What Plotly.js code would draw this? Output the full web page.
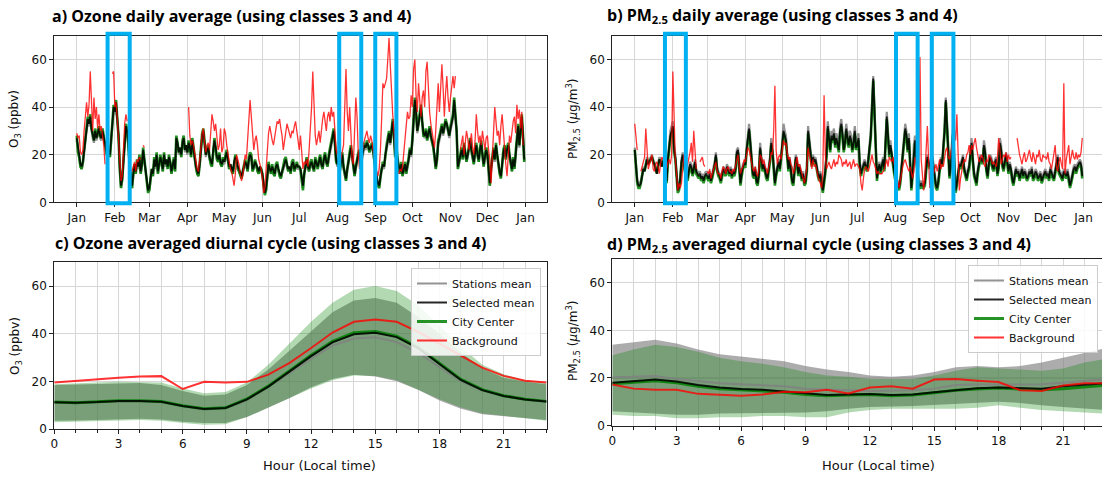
<!DOCTYPE html>
<html>
<head>
<meta charset="utf-8">
<script src="https://cdn.plot.ly/plotly-3.0.1.min.js"></script>
<style>
html,body{margin:0;padding:0;overflow:hidden;background:#fff;width:1102px;height:478px}
#chart{width:1110px;height:478px}
</style>
</head>
<body>
<div id="chart"></div>
<script>
// ---------------- DATA ----------------
const year = 2019;
// Panel a: Ozone daily average (ppbv), Jan..Dec, one value per day
const o3Stations = [
26,21,19,15,14,16,21,25,30,33,32,34,30,27,25,29,26,28,30,27,26,29,26,24,21,19,21,19,26,32,38,
37,40,34,27,14,6,9,17,26,31,29,24,15,9,6,11,15,12,16,14,18,12,15,21,17,13,8,5,
5,9,13,11,17,14,19,12,15,18,16,13,19,15,17,14,18,16,12,15,17,13,26,24,20,22,19,24,26,21,23,
20,24,22,19,25,21,17,14,12,11,15,21,27,29,23,19,21,22,18,16,15,21,25,22,18,17,19,16,15,17,
16,18,20,17,14,15,13,12,16,18,17,14,13,11,10,12,14,16,15,13,17,19,18,13,14,16,15,13,12,14,13,
11,7,4,5,11,15,13,12,14,12,11,14,15,13,11,10,12,14,16,17,15,13,14,12,15,16,13,14,15,14,
14,13,9,6,11,15,17,14,13,15,16,14,13,17,15,14,16,18,15,14,17,19,16,15,18,21,23,27,29,24,17,
15,17,13,16,19,14,11,9,13,17,19,22,18,14,11,14,17,19,20,15,18,21,23,22,24,23,21,22,23,21,17,
13,9,7,6,10,13,15,14,19,22,25,28,24,29,33,27,19,21,17,14,12,15,11,13,15,12,14,17,21,19,
25,34,41,37,29,32,35,39,33,28,27,29,26,28,30,27,25,23,19,14,17,24,26,29,31,28,30,33,32,29,27,
30,32,35,41,34,29,14,16,19,21,18,23,20,17,19,22,25,21,18,16,20,23,19,17,21,24,19,15,18,21,
19,14,7,13,18,21,17,23,19,15,12,10,16,20,22,18,21,23,19,16,13,17,14,19,25,31,23,29,35,27,17];
const o3Selected = [
27,22,20,16,15,17,22,26,31,35,33,36,31,28,26,30,27,29,31,28,27,30,27,25,22,20,22,20,27,33,40,
38,42,35,28,15,7,10,18,27,32,30,25,16,10,7,12,16,13,17,15,19,13,16,22,18,14,9,5,
6,10,14,12,18,15,20,13,16,19,17,14,20,16,18,15,19,17,13,16,18,14,27,25,21,23,20,25,27,22,24,
21,25,23,20,26,22,18,15,13,12,16,22,28,30,24,20,22,23,19,17,16,22,26,23,19,18,20,17,16,18,
17,19,21,18,15,16,14,13,17,19,18,15,14,12,11,13,15,17,16,14,18,20,19,14,15,17,16,14,13,15,14,
12,8,4,6,12,16,14,13,15,13,12,15,16,14,12,11,13,15,17,18,16,14,15,13,16,17,14,15,16,15,
15,14,10,7,12,16,18,15,14,16,17,15,14,18,16,15,17,19,16,15,18,20,17,16,19,22,24,28,30,25,18,
16,18,14,17,20,15,12,10,14,18,20,23,19,15,12,15,18,20,21,16,19,22,24,23,25,24,22,23,24,22,18,
14,10,8,7,11,14,16,15,20,23,26,29,25,30,34,28,20,22,18,15,13,16,12,14,16,13,15,18,22,20,
26,35,43,38,30,33,36,40,34,29,28,30,27,29,31,28,26,24,20,15,18,25,27,30,32,29,31,34,33,30,28,
31,33,36,43,35,30,15,17,20,22,19,24,21,18,20,23,26,22,19,17,21,24,20,18,22,25,20,16,19,22,
20,15,8,14,19,22,18,24,20,16,13,11,17,21,23,19,22,24,20,17,14,18,15,20,26,32,24,30,36,28,18];
const o3City = [
28,21,19,15,14,17,22,26,32,36,33,37,31,28,26,31,27,29,32,28,27,31,27,25,21,19,22,19,27,34,41,
39,43,35,28,14,6,10,18,28,33,31,25,16,9,6,12,16,12,18,15,20,12,16,23,18,13,8,4,
5,10,14,11,19,15,21,12,16,20,17,13,21,16,18,14,20,17,12,16,19,13,28,25,21,23,19,26,28,22,24,
21,26,23,19,27,22,18,15,12,11,16,23,29,31,24,20,22,24,19,16,15,23,27,23,18,17,21,16,15,19,
17,20,22,18,14,16,13,12,17,20,18,14,13,11,10,13,15,18,16,13,19,21,20,13,15,18,16,13,12,15,14,
12,7,3,5,12,17,14,12,16,12,11,16,17,14,11,10,13,16,18,19,16,13,15,12,17,18,13,15,17,15,
15,14,9,5,12,17,19,15,13,17,18,15,13,19,16,14,18,20,16,14,19,21,17,15,20,23,25,29,31,25,17,
16,19,13,18,21,15,11,9,14,19,21,24,19,14,11,15,19,21,22,15,20,23,25,23,26,24,21,23,25,22,17,
13,9,7,6,11,14,17,15,21,24,27,30,25,31,35,28,19,23,18,14,12,17,11,14,17,12,15,19,23,20,
27,36,44,38,30,34,37,41,34,28,28,31,26,30,32,28,26,23,19,14,18,26,28,31,33,29,32,35,33,30,28,
32,34,37,44,35,30,14,17,21,23,18,25,21,17,20,24,27,22,18,16,22,25,20,17,23,26,20,15,20,23,
21,14,7,15,20,23,18,25,20,15,12,10,18,22,24,18,23,25,20,16,13,19,14,21,27,33,24,31,37,28,17];
const o3Background = [
29,27,28,21,20,22,30,37,42,36,41,55,38,30,44,35,40,31,37,30,32,28,24,16,null,null,null,null,null,54,55,
40,42,35,27,15,9,11,22,33,37,34,null,null,null,13,15,17,13,18,17,19,18,null,24,23,null,null,null,
null,null,null,null,null,null,null,null,null,null,null,null,null,null,null,null,null,null,null,null,null,null,null,null,null,null,null,null,null,null,null,
null,40,28,24,26,24,20,16,14,13,17,23,29,31,25,21,24,25,22,30,37,34,30,33,27,22,24,31,21,23,
31,29,24,20,17,14,13,10,7,12,20,18,16,12,9,11,15,20,18,25,34,43,36,28,22,26,28,24,18,16,14,
10,4,6,14,22,29,32,28,26,24,27,30,34,33,35,31,28,22,26,30,33,31,29,27,30,29,32,34,30,26,
22,28,20,14,17,16,18,15,22,30,40,55,42,28,24,27,30,25,32,35,38,33,30,36,38,34,40,36,38,30,22,
20,22,16,19,21,24,40,56,38,30,40,28,18,16,30,44,36,20,14,18,21,24,26,28,30,27,25,28,26,22,18,
16,13,11,14,22,35,50,48,50,52,60,69,58,45,37,30,20,16,13,12,14,13,15,20,25,30,38,35,36,45,
40,56,60,45,38,50,42,36,44,47,40,55,59,44,38,33,30,26,23,30,42,50,38,46,58,48,36,46,53,44,38,
44,50,53,48,53,null,null,null,22,25,28,20,24,30,27,22,25,29,23,20,26,37,30,25,28,24,30,26,22,27,
28,22,18,8,20,30,40,34,28,30,24,32,37,30,22,16,11,20,28,25,30,34,36,29,41,35,39,31,38,24,null];

// Panel b: PM2.5 daily average (µg/m3)
const pmStations = [
23,15,10,8,8,9,13,15,14,17,19,17,18,19,20,18,17,15,13,16,19,18,16,18,19,17,10,19,26,30,32,
34,24,20,13,6,7,11,18,21,17,14,12,11,14,17,16,13,15,18,14,13,12,13,11,12,10,12,13,
12,11,13,10,12,14,17,21,15,13,12,10,13,15,14,13,16,14,13,15,12,14,13,15,22,23,17,9,13,16,17,
17,23,30,33,27,19,13,12,15,10,9,13,25,19,15,17,14,12,11,15,19,27,23,16,9,13,16,18,15,19,
26,33,30,28,21,15,19,13,10,9,15,20,18,13,16,13,11,13,9,10,15,32,27,19,17,20,18,19,15,13,11,
13,9,6,10,14,22,34,29,24,30,28,31,26,29,27,24,32,35,30,24,27,33,29,26,30,28,24,27,32,25,
26,29,17,13,15,17,18,16,15,19,26,30,42,53,40,24,11,15,17,14,16,19,15,27,38,30,21,26,20,18,14,
11,8,9,7,10,15,22,28,33,30,24,29,15,7,13,24,28,19,15,8,8,9,8,8,9,15,20,18,16,17,20,
16,11,8,7,10,15,19,17,24,32,44,36,24,12,16,25,32,17,6,9,13,17,16,18,20,15,13,11,14,16,
21,27,19,13,11,9,14,17,20,19,18,26,23,15,12,17,20,19,16,15,18,19,13,16,27,24,17,15,19,21,18,
14,17,15,11,9,12,15,13,14,11,13,15,12,14,13,11,12,14,13,15,11,12,14,13,11,12,13,10,12,13,
14,12,13,11,15,13,12,11,14,17,20,14,13,12,11,14,13,12,14,10,8,10,13,15,16,14,16,17,18,17,12];
const pmSelected = [
22,14,9,7,7,8,12,14,13,16,18,16,17,18,19,17,16,14,12,15,18,17,15,17,18,16,9,18,24,28,30,
32,22,19,12,5,6,10,17,20,16,13,11,10,13,16,15,12,14,17,13,12,11,12,10,11,9,11,12,
11,10,12,9,11,13,16,20,14,12,11,9,12,14,13,12,15,13,12,14,11,13,12,14,21,22,16,8,12,15,16,
16,22,28,31,25,18,12,11,14,9,8,12,23,18,14,16,13,11,10,14,18,25,22,15,8,12,15,17,14,18,
24,30,28,26,20,14,18,12,9,8,14,19,17,12,15,12,10,12,8,9,14,30,25,18,16,19,17,18,14,12,10,
12,8,5,9,13,20,32,27,22,28,26,29,24,27,25,22,30,33,28,22,25,31,27,24,28,26,22,25,30,23,
24,27,16,12,14,16,17,15,14,18,24,28,40,52,38,22,10,14,16,13,15,18,14,25,36,28,20,24,19,17,13,
10,7,8,6,9,14,20,26,31,28,22,27,14,6,12,22,26,18,14,7,7,8,7,7,8,14,19,17,15,16,19,
15,10,7,6,9,14,18,16,22,30,43,34,22,11,15,23,30,16,5,8,12,16,15,17,19,14,12,10,13,15,
20,25,18,12,10,8,13,16,19,18,17,24,21,14,11,16,19,18,15,14,17,18,12,15,25,22,16,14,18,20,17,
13,16,14,10,8,11,14,12,13,10,12,14,11,13,12,10,11,13,12,14,10,11,13,12,10,11,12,9,11,12,
13,11,12,10,14,12,11,10,13,16,19,13,12,11,10,13,12,11,13,9,7,9,12,14,15,13,15,16,17,16,11];
const pmCity = [
22,13,8,6,6,8,12,14,13,16,18,16,17,18,19,17,16,14,12,15,18,17,15,17,18,16,8,17,23,27,29,
31,21,18,11,4,5,9,16,19,15,12,10,9,12,15,14,11,13,16,12,11,10,11,9,10,8,10,11,
10,9,11,8,10,12,15,19,13,11,10,8,11,13,12,11,14,12,11,13,10,12,11,13,20,21,15,7,11,14,15,
15,21,27,30,24,17,11,10,13,8,7,11,22,17,13,15,12,10,9,13,17,24,21,14,7,11,14,16,13,17,
23,29,27,25,19,13,17,11,8,7,13,18,16,11,14,11,9,11,7,8,13,29,24,17,15,18,16,17,13,11,9,
11,7,4,8,12,19,31,26,21,27,25,28,23,26,24,21,29,32,27,21,24,30,26,23,27,25,21,24,29,22,
23,26,15,11,13,15,16,14,13,17,23,27,39,51,37,21,9,13,15,12,14,17,13,24,35,27,19,23,18,16,12,
9,6,7,5,8,13,19,25,30,27,21,26,13,5,11,21,25,17,13,6,6,7,6,6,7,13,18,16,14,15,18,
14,9,6,5,8,13,17,15,21,29,42,33,21,10,14,22,29,15,4,7,11,15,14,16,18,13,11,9,12,14,
19,24,17,11,9,7,12,15,18,17,16,23,20,13,10,15,18,17,14,13,16,17,11,14,24,21,15,13,17,19,16,
12,15,13,9,7,10,13,11,12,9,11,13,10,12,11,9,10,12,11,13,9,10,12,11,9,10,11,8,10,11,
12,10,11,9,13,11,10,9,12,15,18,12,11,10,9,12,11,10,12,8,6,8,11,13,14,12,14,15,16,15,10];
const pmBackground = [
33,28,22,null,null,13,15,17,19,31,24,14,16,18,20,14,13,16,17,15,12,16,19,18,20,16,14,17,18,16,20,
55,30,18,12,5,8,6,8,15,20,17,14,16,18,21,25,17,30,22,14,null,null,17,18,19,16,15,null,
13,12,14,10,12,14,15,17,13,12,12,10,13,15,14,12,14,15,13,13,12,14,13,15,18,20,15,12,14,15,18,
17,20,23,22,19,16,14,13,15,12,11,14,20,19,16,18,15,14,12,15,17,21,20,30,49,22,16,19,20,18,
22,26,24,25,21,18,19,16,15,12,14,17,19,15,16,14,12,10,8,11,15,23,20,17,14,18,15,16,13,11,9,
8,6,13,45,20,14,16,17,15,14,16,18,15,17,16,20,19,18,15,17,16,18,15,16,17,14,16,18,15,16,
16,15,14,8,5,10,14,15,14,13,15,18,20,17,16,14,12,13,12,12,12,13,14,16,18,15,19,18,17,19,16,
15,12,10,6,9,13,15,17,18,16,14,13,15,12,10,13,19,16,12,15,61,18,9,5,12,20,32,18,6,9,12,
12,14,16,13,15,18,14,16,15,20,22,23,19,18,20,24,26,30,26,37,20,5,10,14,16,18,17,20,21,24,
20,24,22,25,27,23,19,17,18,20,19,16,15,18,17,20,19,18,16,17,16,15,19,27,22,16,18,20,19,21,17,
20,18,19,null,null,null,null,27,22,20,18,16,19,21,17,18,20,22,19,17,21,18,16,20,19,22,18,17,20,19,
19,18,21,17,16,14,18,20,24,15,13,17,19,16,14,50,12,18,22,24,16,20,22,19,18,21,18,20,19,21,27];

// Highlighted periods (blue boxes)
const o3Highlights = [['2019-01-26 02:00','2019-02-13 02:00'],['2019-08-02 12:00','2019-08-20 10:00'],['2019-08-31 19:00','2019-09-18 00:00']];
const pmHighlights = [['2019-01-25 14:00','2019-02-11 14:00'],['2019-08-01 12:00','2019-08-19 02:00'],['2019-08-30 14:00','2019-09-17 05:00']];

// Panel c: Ozone diurnal cycle (ppbv), hours 0..23
const hours = [0,1,2,3,4,5,6,7,8,9,10,11,12,13,14,15,16,17,18,19,20,21,22,23];
const o3HourStations   = [11,10.8,11.2,11.6,11.7,11.2,9.5,8.2,8.6,12,17.5,23.5,29.5,35,38,38.5,36.5,32,26,20,16,13.8,12.3,11.3];
const o3HourSelected   = [11.2,11,11.3,11.8,11.8,11.4,9.7,8.4,8.8,12.4,17.8,24.2,30.6,36.4,39.8,40.4,38.6,34,27.2,20.6,16.3,13.9,12.4,11.5];
const o3HourCity       = [11.3,11,11.4,11.9,11.9,11.5,9.8,8.5,8.9,12.6,18,24.5,31,36.8,40.4,40.9,39,34.3,27.5,20.8,16.5,14,12.5,11.6];
const o3HourBackground = [19.5,20.2,21,21.5,22,22.2,16.8,19.8,19.5,19.8,22.8,27.8,34,40.5,45,46,45,40.8,35.8,30.8,25.8,22.3,20.3,19.5];
const o3HourStationsHigh = [18.5,18.7,19,19.3,19.3,18.5,16,14,14.5,18.5,25,33,41,49,54,55,53,47,40,32,25.5,21.5,19.8,18.8];
const o3HourStationsLow  = [3.5,3.6,3.8,4.2,4.3,4,3,2.5,2.5,5,9,13,17.5,21,22.8,22,20,16.5,12,8.5,6.2,5.3,4.5,3.8];
const o3HourCityHigh     = [18.8,19,19.5,19.8,19.8,19.5,17,15,15.5,19.5,27,36,45,53,58.5,60,58,52,43.5,34.5,27,23,20.5,19.5];
const o3HourCityLow      = [2.8,2.8,3.2,3.5,3.8,3.5,2.5,1.8,2,5,9,13,17,20.5,22.5,22.3,20.5,16.5,12.5,9,6.5,5.5,4.5,3.5];

// Panel d: PM2.5 diurnal cycle (µg/m3)
const pmHourStations   = [20.2,20.5,20.8,19.5,18.5,17.8,17.3,17,16.5,15.5,15,14.8,14.5,14.5,14.8,15.5,17,17.2,17.3,17.2,17.3,18,18.8,19.5];
const pmHourSelected   = [18,18.7,19.3,18.5,17,16,15.3,15,14.2,13.3,12.8,13,13.2,12.8,13,14,15,15.7,16,15.8,15.5,16.5,17.3,17.8];
const pmHourCity       = [17.5,18.3,18.8,18,16.5,15.5,15,14.7,14,13,12.5,12.8,13,12.5,12.8,13.8,14.8,15.3,15.8,15.3,15,15.5,16.3,17];
const pmHourBackground = [17.2,15.5,15,15,13.3,13,12.5,13,14.2,14,15,13.5,16,16.5,15.5,19.3,19.5,18.8,18.3,14.8,14.5,16.8,17.8,17.8];
const pmHourStationsHigh = [34,35,36,34.5,32,30,29,28,27,25,23.5,22.5,21,20.5,21,22.5,24.5,25,24.5,25,26.5,28.5,30.5,32.5];
const pmHourStationsLow  = [6,5.5,5,4.5,4.5,5,5.2,5.5,5.5,5.5,6,7,7.8,8,8.2,8.5,9,9.5,10,9.5,8.5,7.8,7,6.5];
const pmHourCityHigh     = [29.5,32,34,33,31,28.5,27,26,24.5,22.5,21,20.5,19.5,19.5,19.5,21,23,24.5,24,23.5,23,24,26.5,28];
const pmHourCityLow      = [4.5,4,4,3,3,3.5,3.5,4,4,3.5,3.5,5.5,6.5,7,7,7,7,7.5,8.5,7.5,6.5,6,5.5,5];

const yTickVals = [0,20,40,60];
const hourTickVals = [0,3,6,9,12,15,18,21];

// ---------------- LAYOUT HELPERS ----------------
const W = 1110, H = 478;
const px = v => v / W;
const py = v => 1 - v / H;

const days = o3Selected.map((_, i) => new Date(Date.UTC(year, 0, 1 + i)).toISOString().slice(0, 10));

const C = {
  gray: 'rgba(128,128,128,0.85)',
  black: 'rgba(0,0,0,0.85)',
  green: 'rgba(0,128,0,0.85)',
  red: 'rgba(255,0,0,0.8)'
};

function daily(x, y, xa, ya, color, width) {
  return {x: x, y: y, xaxis: xa, yaxis: ya, type: 'scatter', mode: 'lines',
    line: {color: color, width: width}, showlegend: false, hoverinfo: 'skip'};
}
function band(hi, lo, xa, ya, fill) {
  return {x: hours.concat(hours.slice().reverse()), y: hi.concat(lo.slice().reverse()),
    xaxis: xa, yaxis: ya, type: 'scatter', mode: 'lines', fill: 'toself', fillcolor: fill,
    line: {width: 0}, showlegend: false, hoverinfo: 'skip'};
}
function hourLine(y, xa, ya, name, color, width, legend, rank) {
  return {x: hours, y: y, xaxis: xa, yaxis: ya, type: 'scatter', mode: 'lines', name: name,
    line: {color: color, width: width}, legend: legend, legendrank: rank, showlegend: true};
}

const traces = [
  daily(days, o3Stations, 'x', 'y', C.gray, 2.2),
  daily(days, o3City, 'x', 'y', C.green, 2.6),
  daily(days, o3Selected, 'x', 'y', C.black, 1.8),
  daily(days, o3Background, 'x', 'y', C.red, 1.3),

  daily(days, pmStations, 'x2', 'y2', C.gray, 2.2),
  daily(days, pmCity, 'x2', 'y2', C.green, 2.6),
  daily(days, pmSelected, 'x2', 'y2', C.black, 1.8),
  daily(days, pmBackground, 'x2', 'y2', C.red, 1.3),

  band(o3HourStationsHigh, o3HourStationsLow, 'x3', 'y3', 'rgba(128,128,128,0.65)'),
  band(o3HourCityHigh, o3HourCityLow, 'x3', 'y3', 'rgba(0,128,0,0.3)'),
  hourLine(o3HourStations, 'x3', 'y3', 'Stations mean', C.gray, 2, 'legend', 1),
  hourLine(o3HourCity, 'x3', 'y3', 'City Center', C.green, 3, 'legend', 3),
  hourLine(o3HourSelected, 'x3', 'y3', 'Selected mean', C.black, 2, 'legend', 2),
  hourLine(o3HourBackground, 'x3', 'y3', 'Background', C.red, 2, 'legend', 4),

  band(pmHourStationsHigh, pmHourStationsLow, 'x4', 'y4', 'rgba(128,128,128,0.65)'),
  band(pmHourCityHigh, pmHourCityLow, 'x4', 'y4', 'rgba(0,128,0,0.3)'),
  hourLine(pmHourStations, 'x4', 'y4', 'Stations mean', C.gray, 2, 'legend2', 1),
  hourLine(pmHourCity, 'x4', 'y4', 'City Center', C.green, 3, 'legend2', 3),
  hourLine(pmHourSelected, 'x4', 'y4', 'Selected mean', C.black, 2, 'legend2', 2),
  hourLine(pmHourBackground, 'x4', 'y4', 'Background', C.red, 2, 'legend2', 4)
];

const tickFont = {family: 'DejaVu Sans', size: 12, color: '#111'};
const gridColor = '#d6d6d6';
const base = {
  showline: true, mirror: true, linecolor: '#222', linewidth: 1,
  ticks: 'outside', ticklen: 4, tickcolor: '#222', tickfont: tickFont,
  showgrid: true, gridcolor: gridColor, gridwidth: 1.2, zeroline: false, fixedrange: true
};
const dateRange = ['2018-12-13 18:00', '2020-01-18 06:00'];
function dateAxis(d0, d1, anchor) {
  return Object.assign({}, base, {domain: [px(d0), px(d1)], anchor: anchor, type: 'date',
    range: dateRange, tickformat: '%b', dtick: 'M1', tick0: '2019-01-01'});
}
function valAxis(t, b, anchor) {
  return Object.assign({}, base, {domain: [py(b), py(t)], anchor: anchor, range: [0, 70], tickvals: yTickVals});
}
function hourAxis(d0, d1, anchor) {
  return Object.assign({}, base, {domain: [px(d0), px(d1)], anchor: anchor, range: [0, 23],
    tickvals: hourTickVals, gridwidth: 1,
    minor: {dtick: 1, tick0: 0, ticks: 'outside', ticklen: 3, tickcolor: '#222', showgrid: true, gridcolor: gridColor, gridwidth: 1}});
}

const shapes = [];
o3Highlights.forEach(p => shapes.push({type: 'rect', xref: 'x', yref: 'y domain', x0: p[0], x1: p[1], y0: -0.006, y1: 1.012,
  line: {color: '#00b0f0', width: 4}, fillcolor: 'rgba(0,0,0,0)', layer: 'above'}));
pmHighlights.forEach(p => shapes.push({type: 'rect', xref: 'x2', yref: 'y2 domain', x0: p[0], x1: p[1], y0: -0.006, y1: 1.012,
  line: {color: '#00b0f0', width: 4}, fillcolor: 'rgba(0,0,0,0)', layer: 'above'}));

const titleFont = {family: 'Open Sans', size: 16, color: '#000', weight: 700};
const labFont = {family: 'DejaVu Sans', size: 12, color: '#111'};
function note(text, x, y, font, opts) {
  return Object.assign({text: text, xref: 'paper', yref: 'paper', x: px(x), y: py(y), showarrow: false,
    font: font, xanchor: 'left', yanchor: 'middle'}, opts || {});
}
const annotations = [
  note('<b>a) Ozone daily average (using classes 3 and 4)</b>', 50, 16, titleFont),
  note('<b>b) PM<sub>2.5</sub> daily average (using classes 3 and 4)</b>', 605, 16, titleFont),
  note('<b>c) Ozone averaged diurnal cycle (using classes 3 and 4)</b>', 53, 243, titleFont),
  note('<b>d) PM<sub>2.5</sub> averaged diurnal cycle (using classes 3 and 4)</b>', 605, 244, titleFont),
  note('O<sub>3</sub> (ppbv)', 15, 119, labFont, {textangle: -90, xanchor: 'center'}),
  note('PM<sub>2.5</sub> (<i>µ</i>g/m<sup>3</sup>)', 573, 119, labFont, {textangle: -90, xanchor: 'center'}),
  note('O<sub>3</sub> (ppbv)', 16, 346, labFont, {textangle: -90, xanchor: 'center'}),
  note('PM<sub>2.5</sub> (<i>µ</i>g/m<sup>3</sup>)', 573, 341, labFont, {textangle: -90, xanchor: 'center'}),
  note('Hour (Local time)', 319, 465, {family: 'DejaVu Sans', size: 13, color: '#111'}, {xanchor: 'center'}),
  note('Hour (Local time)', 878, 465, {family: 'DejaVu Sans', size: 13, color: '#111'}, {xanchor: 'center'})
];

const legendBase = {bgcolor: 'rgba(255,255,255,0.85)', bordercolor: '#cccccc', borderwidth: 1,
  font: {family: 'DejaVu Sans', size: 11, color: '#111'}, xanchor: 'right', yanchor: 'top',
  tracegroupgap: 0, itemwidth: 30, traceorder: 'normal'};

const layout = {
  width: W, height: H, margin: {l: 0, r: 0, t: 0, b: 0},
  paper_bgcolor: '#fff', plot_bgcolor: '#fff', showlegend: true,
  xaxis: dateAxis(54.3, 546.7, 'y'),
  yaxis: valAxis(35.7, 202.3, 'x'),
  xaxis2: dateAxis(612.3, 1104.7, 'y2'),
  yaxis2: valAxis(35.7, 202.3, 'x2'),
  xaxis3: hourAxis(54.3, 546.5, 'y3'),
  yaxis3: valAxis(262.3, 429, 'x3'),
  xaxis4: hourAxis(612.3, 1106, 'y4'),
  yaxis4: valAxis(259, 425.5, 'x4'),
  legend: Object.assign({}, legendBase, {x: px(541), y: py(268)}),
  legend2: Object.assign({}, legendBase, {x: px(1098), y: py(265)}),
  shapes: shapes,
  annotations: annotations
};

Plotly.newPlot('chart', traces, layout, {displayModeBar: false, staticPlot: true});
</script>
</body>
</html>
